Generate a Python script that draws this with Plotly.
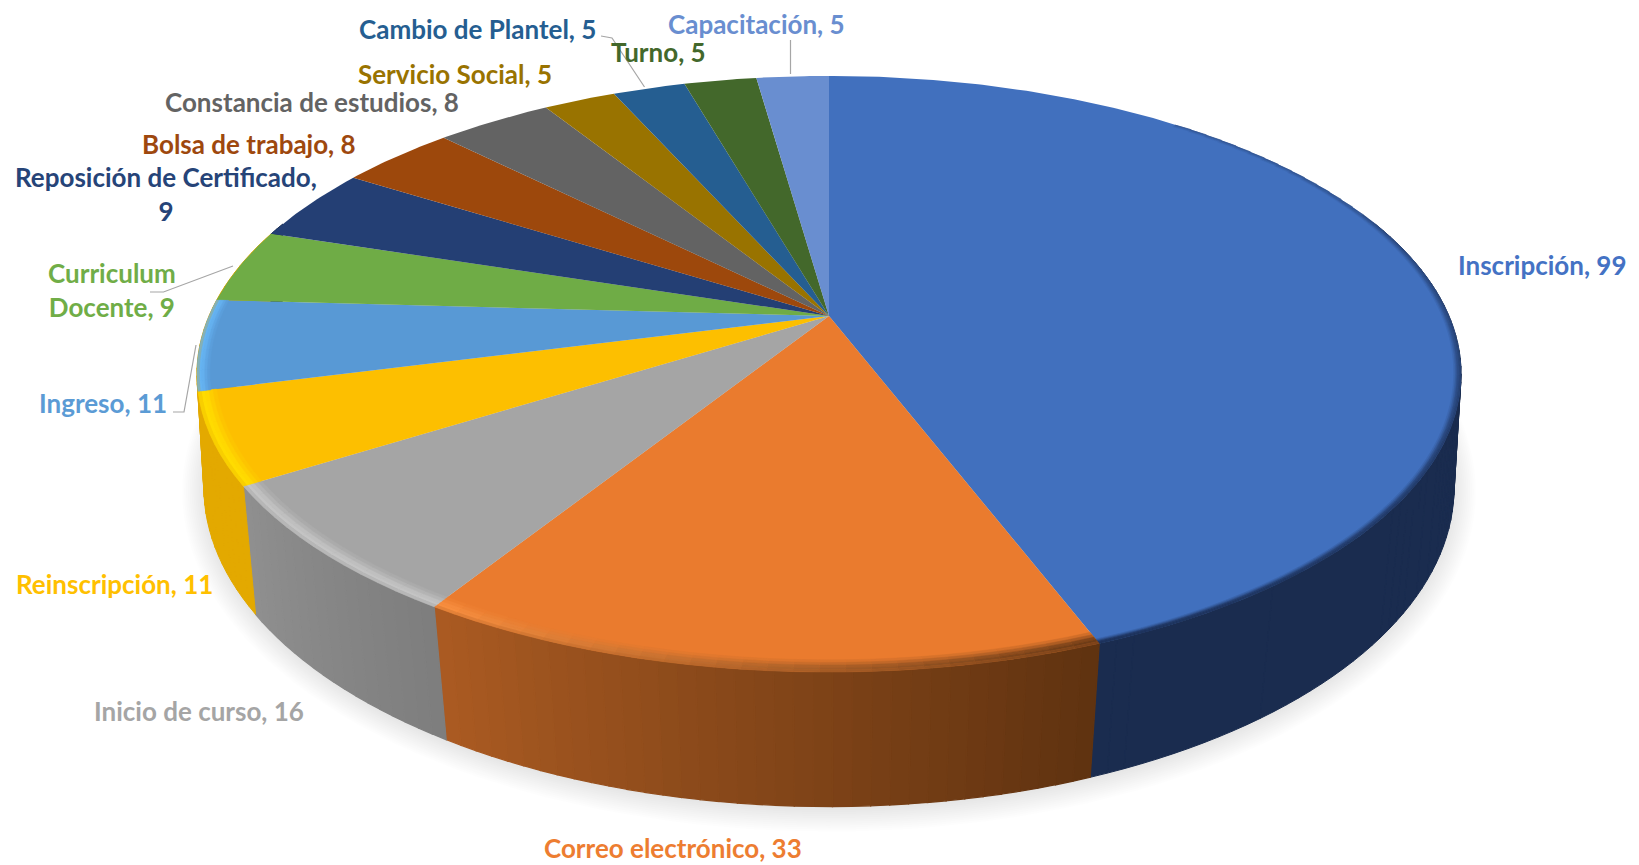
import numpy as np
import plotly.graph_objects as go

categories = ["Inscripción", "Correo electrónico", "Inicio de curso", "Reinscripción", "Ingreso",
              "Curriculum Docente", "Reposición de Certificado", "Bolsa de trabajo",
              "Constancia de estudios", "Servicio Social", "Cambio de Plantel", "Turno", "Capacitación"]
values = [99, 33, 16, 11, 11, 9, 9, 8, 8, 5, 5, 5, 5]
top_colors = ["#4170be", "#ea7b2e", "#a5a5a5", "#fdbf00", "#5899d5", "#6fac46", "#243f74",
              "#9d480c", "#636363", "#997300", "#255e91", "#43682b", "#698ed0"]
text_colors = ["#4472c4", "#ed7d31", "#a5a5a5", "#ffc000", "#5b9bd5", "#70ad47", "#264478",
               "#9e480e", "#636363", "#997300", "#255e91", "#43682b", "#698ed0"]
# side wall shade at the start and end (clockwise) of each slice
side_start = ["#1a2c4f", "#5f3210", "#7d7d7d", "#e3a900", "#e3a900", "#e3a900", "#1a2c4f",
              "#6e3209", "#464646", "#6b5000", "#1a4266", "#2f491e", "#4a6492"]
side_end = ["#1a2c4f", "#ab5b22", "#909090", "#e3a900", "#e3a900", "#e3a900", "#1a2c4f",
            "#6e3209", "#464646", "#6b5000", "#1a4266", "#2f491e", "#4a6492"]
# bevel tint along the rim
rim_start = ["#4170be", "#6b3a16", "#c4c4c4", "#ffdc00", "#66b4f2", "#6fac46", "#243f74",
             "#9d480c", "#636363", "#997300", "#255e91", "#43682b", "#698ed0"]
rim_end = ["#1d3159", "#fa9040", "#c4c4c4", "#ffdc00", "#66b4f2", "#6fac46", "#243f74",
           "#9d480c", "#636363", "#997300", "#255e91", "#43682b", "#698ed0"]
rim_width = [0.4, 1, 1, 1, 0.7, 1, 1, 1, 1, 1, 1, 1, 1]

label_lines = {"Reposición de Certificado": "Reposición de Certificado,<br>{v}",
               "Curriculum Docente": "Curriculum<br>Docente, {v}"}
label_xy = [(1542, 265), (673, 848), (199, 711), (114, 584), (103, 403), (112, 290), (166, 194),
            (249, 144), (312, 102), (455, 74), (477, 29), (658, 52), (756, 24)]

leaders = [[(790.5, 40), (790.5, 74)],
           [(601, 36), (612, 38), (644.5, 87)],
           [(150, 292), (163.5, 292), (233, 266)],
           [(173, 412), (184, 412), (196, 345)]]

TOP = dict(cx=829.0, cy=316.0, A=620.0, B=286.8, k=0.1946)
BASE = dict(cx=829.0, cy=433.0, A=616.0, B=310.0, k=0.17)


def project(theta_deg, r, p):
    t = np.radians(theta_deg)
    u, v = r * np.sin(t), r * np.cos(t)
    w = 1 + p["k"] * v
    return p["cx"] + p["A"] * u / w, p["cy"] - p["B"] * v / w


def hex2rgb(c):
    return np.array([int(c[i:i + 2], 16) for i in (1, 3, 5)], float)


def rgbstr(m):
    return "rgb({:.0f},{:.0f},{:.0f})".format(*m)


fig = go.Figure()


def poly(x, y, color, width=1.0):
    fig.add_trace(go.Scatter(x=list(x), y=list(y), mode="lines", fill="toself", fillcolor=color,
                             line=dict(color=color, width=width),
                             hoverinfo="skip", showlegend=False))


# soft shadow
for i in range(16):
    s = dict(BASE)
    s["A"] = BASE["A"] * (1.035 - i * 0.003)
    s["B"] = BASE["B"] * (1.065 - i * 0.0052)
    s["cy"] = BASE["cy"] + 1
    th = np.linspace(0, 360, 181)
    sx, sy = project(th, 1, s)
    fig.add_trace(go.Scatter(x=sx, y=sy, mode="lines", fill="toself", fillcolor="rgba(0,0,0,0.0095)",
                             line=dict(width=0), hoverinfo="skip", showlegend=False))

edges = np.concatenate([[0], np.cumsum(values) / np.sum(values) * 360])

# side wall
for i in range(len(values)):
    a0, a1 = edges[i], edges[i + 1]
    lo, hi = max(a0, 70), min(a1, 290)
    if hi <= lo:
        continue
    c0, c1 = hex2rgb(side_start[i]), hex2rgb(side_end[i])
    n = max(2, int((hi - lo) / 1.5) + 1)
    th = np.linspace(lo, hi, n + 1)
    if side_start[i] == side_end[i]:
        qx, qy = [], []
        for j in range(n):
            x1, y1 = project(th[j:j + 2], 1, TOP)
            x2, y2 = project(th[j:j + 2][::-1], 1, BASE)
            px, py = np.r_[x1, x2], np.r_[y1, y2]
            # same winding for every quad, so overlaps never cancel in the fill
            area = np.sum(px * np.roll(py, -1) - np.roll(px, -1) * py)
            if area < 0:
                px, py = px[::-1], py[::-1]
            qx += [*px, px[0], None]
            qy += [*py, py[0], None]
        poly(qx, qy, side_start[i], width=1.0)
    else:
        for j in range(n):
            f = ((th[j] + th[j + 1]) / 2 - a0) / (a1 - a0)
            x1, y1 = project(th[j:j + 2], 1, TOP)
            x2, y2 = project(th[j:j + 2][::-1], 1, BASE)
            poly(np.r_[x1, x2, x1[0]], np.r_[y1, y2, y1[0]], rgbstr(c0 * (1 - f) + c1 * f), width=1.3)

# top face
for i in range(len(values)):
    th = np.linspace(edges[i], edges[i + 1], max(4, int((edges[i + 1] - edges[i]) * 2)))
    x, y = project(th, 1, TOP)
    poly(np.r_[TOP["cx"], x, TOP["cx"]], np.r_[TOP["cy"], y, TOP["cy"]], top_colors[i], width=0)

# bevel along the rim
bands = [(0.028, 0.022, 0.2), (0.022, 0.016, 0.5), (0.016, 0.010, 0.85), (0.010, 0.005, 1.0), (0.005, 0.0, 1.25)]
for i in range(len(values)):
    a0, a1 = edges[i], edges[i + 1]
    lo, hi = max(a0, 40), min(a1, 300)
    if hi <= lo or rim_start[i] == rim_end[i] == top_colors[i]:
        continue
    base = hex2rgb(top_colors[i])
    side = hex2rgb(side_end[i])
    n = max(2, int((hi - lo) / 2) + 1)
    th = np.linspace(lo, hi, n + 1)
    for j in range(n):
        f = ((th[j] + th[j + 1]) / 2 - a0) / (a1 - a0)
        c = hex2rgb(rim_start[i]) * (1 - f) + hex2rgb(rim_end[i]) * f
        for d0, d1, mix in bands:
            r0, r1 = 1 - d0 * rim_width[i], 1 - d1 * rim_width[i]
            xa, ya = project(th[j:j + 2], r0, TOP)
            xb, yb = project(th[j:j + 2][::-1], r1, TOP)
            if mix > 1:
                col = c * (1 - (mix - 1)) + side * (mix - 1)
            else:
                col = base * (1 - mix) + c * mix
            poly(np.r_[xa, xb, xa[0]], np.r_[ya, yb, ya[0]], rgbstr(col), width=0.5)

# leader lines
for pts in leaders:
    fig.add_trace(go.Scatter(x=[p[0] for p in pts], y=[p[1] for p in pts], mode="lines",
                             line=dict(color="#a6a6a6", width=1.2),
                             hoverinfo="skip", showlegend=False))

# labels
for cat, val, col, (lx, ly) in zip(categories, values, text_colors, label_xy):
    txt = label_lines.get(cat, cat + ", {v}").format(v=val)
    fig.add_annotation(x=lx, y=ly, xref="x", yref="y", text="<b>" + txt + "</b>", showarrow=False,
                       xanchor="center", yanchor="middle", align="center",
                       font=dict(family="Lato", size=26, color=col))

fig.update_layout(width=1639, height=865, margin=dict(l=0, r=0, t=0, b=0),
                  paper_bgcolor="white", plot_bgcolor="white", showlegend=False,
                  xaxis=dict(range=[0, 1639], visible=False, fixedrange=True),
                  yaxis=dict(range=[865, 0], visible=False, fixedrange=True))
fig.write_html("out.html", config={"displayModeBar": False},
               post_script="document.body.style.margin='0';")
